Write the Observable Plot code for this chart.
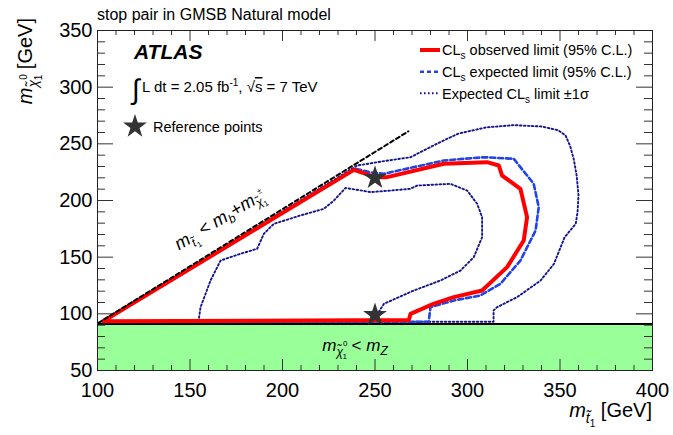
<!DOCTYPE html>
<html><head><meta charset="utf-8">
<script src="https://cdn.jsdelivr.net/npm/d3@7"></script>
<script src="https://cdn.jsdelivr.net/npm/@observablehq/plot@0.6"></script>
<style>
body{margin:0;background:#fff;}
#wrap{position:relative;width:673px;height:435px;font-family:"Liberation Sans",Arial,Helvetica,sans-serif;}
#wrap svg.ann{position:absolute;left:0;top:0;pointer-events:none;}
</style></head><body>
<div id="wrap"></div>
<script>
// ---- data (GeV) ----
const xDomain = [100, 400];
const yDomain = [50, 350];
const xTickLabels = [100, 150, 200, 250, 300, 350, 400];
const yTickLabels = [50, 100, 150, 200, 250, 300, 350];
const mZ = 91;
const zExcluded = [{x1: 100, x2: 400, y1: 50, y2: mZ}];
const kinematicLimit = [[100.5, 92], [268, 261]];
const referencePoints = [[250, 220], [250, 99]];
const observedLimit = [
  [103,93.5],[238.6,227],[250.3,220.6],[256.6,220.6],[287.2,232.4],[310.6,233.8],[316.9,230.9],
  [318.7,222],[328.6,210.3],[332.2,185.3],[330.4,164.7],[321.4,141.2],[307.9,120.6],[292.6,114.7],
  [281.6,108.8],[269.2,100],[268.3,94.5],[103,93.5]
];
const expectedLimit = [
  [103,93],[239.5,228],[247,225],[254.8,223.6],[287.2,235.3],[308.8,238.2],[325,236.8],[328.6,229.4],
  [335.8,214.7],[338.5,194.1],[336.8,173.5],[328.6,147],[317.8,126.5],[307,116.2],[292.6,111.8],
  [280,105.9],[279,93],[103,93]
];
const expectedMinus1Sigma = [
  [154.8,93],[154.8,95.6],[155.7,105.9],[161.1,129.4],[166.5,147],[177.3,153],[186.3,157.4],[189.9,170.6],
  [195.3,179.4],[209.7,186.8],[222.3,192.6],[227.8,200],[234,211],[242,209],[247.6,207.4],[258.4,208.8],
  [269,210.3],[272.8,213.2],[290.8,214.7],[299.8,208.8],[305.2,197.1],[307.9,185.3],[307.9,167.6],
  [303.4,150],[296.2,138.2],[285.4,129.4],[271,120.6],[254.8,108.8],[251,99],[249,93],[154.8,93]
];
const expectedPlus1Sigma = [
  [103,93],[240.4,230.9],[256,235],[269.2,238.2],[281.6,248.5],[287.2,253],[295,259],[310,264.5],
  [325,266.5],[340,265.3],[349,262],[353,257.4],[355.5,248],[357.5,236],[359,222],[360,205],
  [359.5,190],[358.5,179.4],[352.5,167.6],[346.7,144],[339.5,129.4],[326.8,114.7],[316,105.9],
  [314.1,103],[314.1,93],[103,93]
];

// ---- layout ----
const W = 673, H = 435, mL = 97, mR = 21, mT = 30, mB = 65;
const FW = W - mL - mR, FH = H - mT - mB;
const xMajor = d3.range(100, 401, 50), xMinor = d3.range(100, 401, 10).filter(v => v % 50);
const yMajor = d3.range(50, 351, 50), yMinor = d3.range(50, 351, 10).filter(v => v % 50);
const tickC = "#333";
const px = d => d[0], py = d => d[1];
const dotted = {stroke: "#14148c", strokeWidth: 1.9, strokeDasharray: "1.6,2.4", clip: true};

const chart = Plot.plot({
  width: W, height: H, marginLeft: mL, marginRight: mR, marginTop: mT, marginBottom: mB,
  x: {domain: xDomain}, y: {domain: yDomain},
  style: {fontFamily: '"Liberation Sans", Arial, Helvetica, sans-serif', background: "white", color: "black"},
  marks: [
    Plot.rect(zExcluded, {x1: "x1", x2: "x2", y1: "y1", y2: "y2", fill: "#99ff99"}),
    Plot.ruleY([mZ], {stroke: "black", strokeWidth: 2}),
    Plot.line(expectedPlus1Sigma, {x: px, y: py, ...dotted}),
    Plot.line(expectedMinus1Sigma, {x: px, y: py, ...dotted}),
    Plot.line(expectedLimit, {x: px, y: py, stroke: "#2244e6", strokeWidth: 2.6, strokeDasharray: "5,3", clip: true}),
    Plot.line(observedLimit, {x: px, y: py, stroke: "#ff0000", strokeWidth: 4, strokeLinejoin: "round", clip: true}),
    Plot.line(kinematicLimit, {x: px, y: py, stroke: "black", strokeWidth: 2, strokeDasharray: "4,3", clip: true}),
    Plot.dot(referencePoints, {x: px, y: py, symbol: "star", r: 7.5, fill: "#333", stroke: "none"}),
    // inner ticks (ROOT style)
    Plot.tickX(xMajor, {x: d => d, insetTop: FH - 11, stroke: tickC}),
    Plot.tickX(xMajor, {x: d => d, insetBottom: FH - 11, stroke: tickC}),
    Plot.tickX(xMinor, {x: d => d, insetTop: FH - 5, stroke: tickC}),
    Plot.tickX(xMinor, {x: d => d, insetBottom: FH - 5, stroke: tickC}),
    Plot.tickY(yMajor, {y: d => d, insetRight: FW - 16, stroke: tickC}),
    Plot.tickY(yMajor, {y: d => d, insetLeft: FW - 16, stroke: tickC}),
    Plot.tickY(yMinor, {y: d => d, insetRight: FW - 8, stroke: tickC}),
    Plot.tickY(yMinor, {y: d => d, insetLeft: FW - 8, stroke: tickC}),
    Plot.frame({stroke: "#222"}),
    Plot.axisX(xTickLabels, {tickSize: 0, tickPadding: 12, fontSize: 20, label: null}),
    Plot.axisY(yTickLabels, {tickSize: 0, tickPadding: 5, fontSize: 20, label: null})
  ]
});
const wrap = document.getElementById("wrap");
wrap.appendChild(chart);

const starPath = d3.symbol(d3.symbolStar, Math.PI * 7.5 * 7.5)();
const ann = `
<svg class="ann" xmlns="http://www.w3.org/2000/svg" width="${W}" height="${H}" font-family="Liberation Sans, Arial, Helvetica, sans-serif">
  <text x="97" y="20" font-size="16">stop pair in GMSB Natural model</text>
  <text x="134" y="59" font-size="21" font-weight="bold" font-style="italic">ATLAS</text>
  <text x="132" y="99" font-size="28">∫</text>
  <text x="142" y="92" font-size="15">L dt = 2.05 fb<tspan font-size="10" dy="-6">-1</tspan><tspan dy="6">, √</tspan><tspan text-decoration="overline">s</tspan> = 7 TeV</text>
  <path d="${starPath}" transform="translate(135,126.5)" fill="#333"/>
  <text x="153" y="132" font-size="14.5">Reference points</text>

  <line x1="420" x2="440" y1="50" y2="50" stroke="#ff0000" stroke-width="4"/>
  <text x="442" y="55" font-size="14.5">CL<tspan font-size="10" dy="4">s</tspan><tspan dy="-4"> observed limit (95% C.L.)</tspan></text>
  <line x1="420" x2="440" y1="71.7" y2="71.7" stroke="#2244e6" stroke-width="2.6" stroke-dasharray="4,3"/>
  <text x="442" y="76.9" font-size="14.5">CL<tspan font-size="10" dy="4">s</tspan><tspan dy="-4"> expected limit (95% C.L.)</tspan></text>
  <line x1="420" x2="440" y1="93.3" y2="93.3" stroke="#14148c" stroke-width="1.9" stroke-dasharray="1.6,2.4"/>
  <text x="442" y="98.5" font-size="14.5">Expected CL<tspan font-size="10" dy="4">s</tspan><tspan dy="-4"> limit ±1σ</tspan></text>

  <g transform="translate(220,220) rotate(-31)">
    <text text-anchor="middle" y="5" font-size="18"><tspan font-style="italic">m</tspan><tspan font-size="12" dy="5" font-style="italic">t̃</tspan><tspan font-size="8" dy="3">1</tspan><tspan dy="-8"> &lt; </tspan><tspan font-style="italic">m</tspan><tspan font-size="12" dy="4" font-style="italic">b</tspan><tspan dy="-4">+</tspan><tspan font-style="italic">m</tspan><tspan font-size="12" dy="4" font-style="italic">χ̃</tspan><tspan font-size="8" dy="-11">±</tspan><tspan font-size="8" dx="-5" dy="14">1</tspan></text>
  </g>

  <text x="355" y="351" text-anchor="middle" font-size="17"><tspan font-style="italic">m</tspan><tspan font-size="12" dy="5" font-style="italic">χ̃</tspan><tspan font-size="8" dy="-10">0</tspan><tspan font-size="8" dx="-5" dy="13">1</tspan><tspan dy="-8"> &lt; </tspan><tspan font-style="italic">m</tspan><tspan font-size="12" dy="4" font-style="italic">Z</tspan></text>

  <text x="652" y="417" text-anchor="end" font-size="20"><tspan font-style="italic">m</tspan><tspan font-size="14" dy="6" font-style="italic">t̃</tspan><tspan font-size="10" dy="4">1</tspan><tspan dy="-10"> [GeV]</tspan></text>

  <g transform="translate(32,18) rotate(-90)">
    <text text-anchor="end" font-size="20"><tspan font-style="italic">m</tspan><tspan font-size="14" dy="6" font-style="italic">χ̃</tspan><tspan font-size="10" dy="-11">0</tspan><tspan font-size="10" dx="-6" dy="15">1</tspan><tspan dy="-10"> [GeV]</tspan></text>
  </g>
</svg>`;
wrap.insertAdjacentHTML("beforeend", ann);
</script>
</body></html>
